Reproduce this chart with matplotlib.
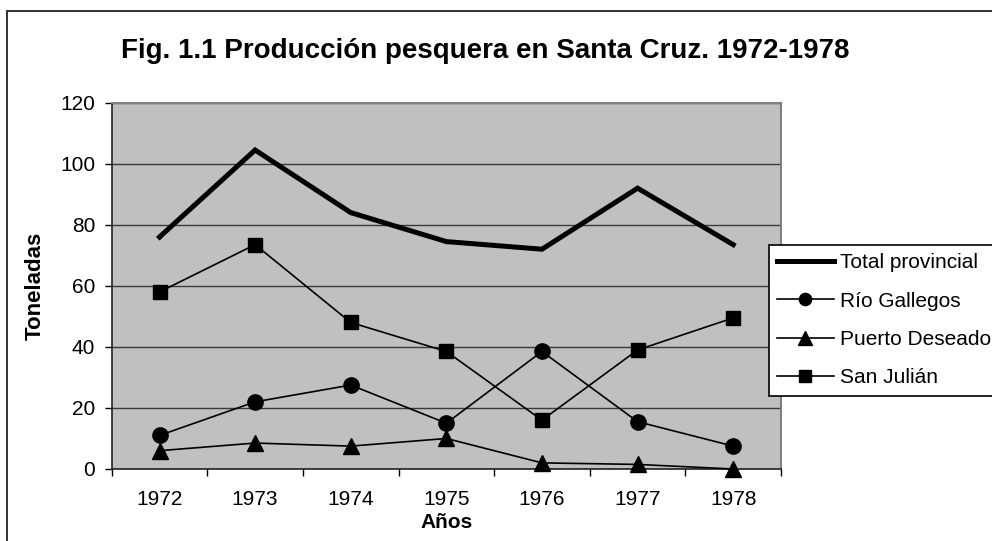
import matplotlib
matplotlib.use("Agg")
import matplotlib.pyplot as plt
from matplotlib.patches import Rectangle

plt.rcParams['font.family'] = ['Liberation Sans', 'DejaVu Sans']

years = ["1972", "1973", "1974", "1975", "1976", "1977", "1978"]
total_provincial = [76, 104.5, 84, 74.5, 72, 92, 73.5]
rio_gallegos = [11, 22, 27.5, 15, 38.5, 15.5, 7.5]
puerto_deseado = [6, 8.5, 7.5, 10, 2, 1.5, 0]
san_julian = [58, 73.5, 48, 38.5, 16, 39, 49.5]

W, H = 992, 541
fig = plt.figure(figsize=(W / 100, H / 100), dpi=100)
fig.patch.set_facecolor('white')

# outer chart border
fig.patches.append(Rectangle((7 / W, -0.1), 1.2, 1 - 11 / H + 0.1, transform=fig.transFigure,
                             fill=False, edgecolor='#222222', linewidth=1.3, zorder=0))

left, right, top, bottom = 111.7, 781, 102.7, 469
ax = fig.add_axes([left / W, 1 - bottom / H, (right - left) / W, (bottom - top) / H])
ax.set_facecolor('#C0C0C0')

x = list(range(len(years)))
ax.plot(x, total_provincial, color='black', lw=3.6, marker='.', markersize=3,
        label='Total provincial', solid_joinstyle='miter', zorder=5)
ax.plot(x, rio_gallegos, color='black', lw=1.2, marker='o', markersize=11,
        label='Río Gallegos', zorder=5)
ax.plot(x, puerto_deseado, color='black', lw=1.2, marker='^', markersize=12,
        label='Puerto Deseado', zorder=5, clip_on=False)
ax.plot(x, san_julian, color='black', lw=1.2, marker='s', markersize=10.5,
        label='San Julián', zorder=5)

ax.set_xlim(-0.5, len(years) - 0.5)
ax.set_ylim(0, 120)
ax.set_yticks(range(0, 121, 20))
ax.set_xticks(x)
ax.set_xticklabels(years)
ax.set_xticks([i - 0.5 for i in range(len(years) + 1)], minor=True)
ax.tick_params(axis='x', which='major', length=0, pad=15, labelsize=15)
ax.tick_params(axis='x', which='minor', length=5, width=1, direction='out')
ax.tick_params(axis='y', length=5, width=1, direction='out', pad=7, labelsize=15)

ax.grid(axis='y', color='#3a3a3a', linewidth=1)
ax.set_axisbelow(True)
for s in ['top', 'right']:
    ax.spines[s].set_color('#808080')
    ax.spines[s].set_linewidth(1.5)
for s in ['left', 'bottom']:
    ax.spines[s].set_color('#222222')
    ax.spines[s].set_linewidth(1.2)

ax.set_ylabel('Toneladas', fontsize=16, fontweight='bold')
ax.yaxis.set_label_coords((46 - left) / (right - left), 0.5)
ax.set_xlabel('Años', fontsize=15, fontweight='bold')
ax.xaxis.set_label_coords(0.5, -(513 - bottom) / (bottom - top))

fig.text(485 / W, 1 - 51 / H, 'Fig. 1.1 Producción pesquera en Santa Cruz. 1972-1978',
         ha='center', va='center', fontsize=20, fontweight='bold')

leg = fig.legend(loc='upper left', bbox_to_anchor=(769 / W, 1 - 245 / H),
                 bbox_transform=fig.transFigure, frameon=True, fancybox=False,
                 edgecolor='black', facecolor='white', framealpha=1, fontsize=15,
                 handlelength=2.7, handletextpad=0.3, borderpad=0.4,
                 labelspacing=0.93, borderaxespad=0)
leg.get_frame().set_linewidth(1.2)
for h in leg.legend_handles:
    h.set_markersize(h.get_markersize() * 0.8)

fig.savefig('out.png', dpi=100)
